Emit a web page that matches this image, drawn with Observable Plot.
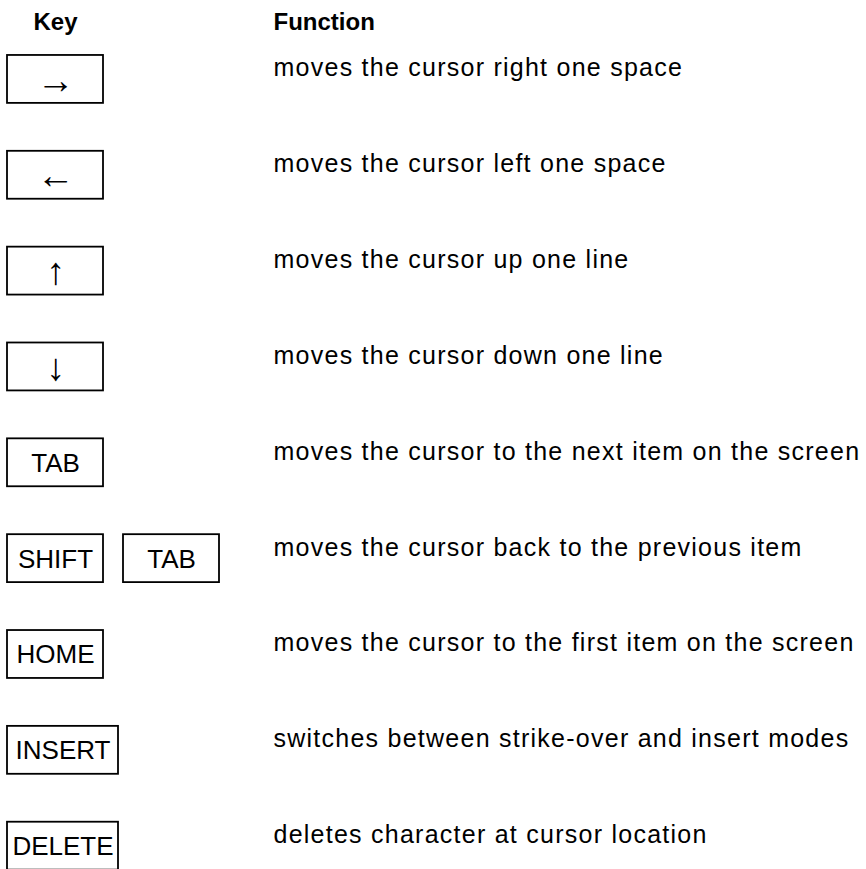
<!DOCTYPE html>
<html>
<head>
<meta charset="utf-8">
<script src="https://cdn.jsdelivr.net/npm/d3@7"></script>
<script src="https://cdn.jsdelivr.net/npm/@observablehq/plot@0.6"></script>
<style>
  body { margin: 0; background: #fff; }
  svg text { font-family: "Liberation Sans", Arial, Helvetica, sans-serif; }
</style>
</head>
<body>
<div id="chart"></div>
<script>
// Column headers
const headers = ["Key", "Function"];

// Keys pressed for each row (a row may need two keys)
const keyRows = [
  ["→"],
  ["←"],
  ["↑"],
  ["↓"],
  ["TAB"],
  ["SHIFT", "TAB"],
  ["HOME"],
  ["INSERT"],
  ["DELETE"]
];

// What each row does
const functions = [
  "moves the cursor right one space",
  "moves the cursor left one space",
  "moves the cursor up one line",
  "moves the cursor down one line",
  "moves the cursor to the next item on the screen",
  "moves the cursor back to the previous item",
  "moves the cursor to the first item on the screen",
  "switches between strike-over and insert modes",
  "deletes character at cursor location"
];

// Layout in "key units" (one standard keycap = 1 unit)
const GAP = 20 / 96;
const WIDE = 111 / 96;
const FUNC_X = 266 / 96;
const rowIds = keyRows.map((_, i) => i);

const keycaps = keyRows.flatMap((keys, row) => {
  let x = 0;
  return keys.map(label => {
    const w = label.length > 5 ? WIDE : 1;
    const k = {row, label, x1: x, x2: x + w, arrow: /[\u2190-\u2193]/.test(label)};
    x += w + GAP;
    return k;
  });
});

const chart = Plot.plot({
  width: 866,
  height: 869,
  margin: 0,
  style: {fontFamily: '"Liberation Sans", Arial, Helvetica, sans-serif', background: "#fff", color: "#000"},
  x: {type: "linear", domain: [0, 859 / 96], range: [7, 866], axis: null},
  y: {type: "band", domain: rowIds, range: [31, 893.6], paddingInner: 0.5, paddingOuter: 0.25, round: false, axis: null},
  marks: [
    // headers
    Plot.text([headers[0]], {x: () => 0.5, frameAnchor: "top", lineAnchor: "bottom", dy: 29,
      text: d => d, textAnchor: "middle", fontWeight: "bold", fontSize: 24}),
    Plot.text([headers[1]], {x: () => FUNC_X, frameAnchor: "top", lineAnchor: "bottom", dy: 29,
      text: d => d, textAnchor: "start", fontWeight: "bold", fontSize: 24}),
    // keycaps
    Plot.barX(keycaps, {x1: "x1", x2: "x2", y: "row", fill: "none", stroke: "#000", strokeWidth: 1.8}),
    Plot.text(keycaps.filter(d => !d.arrow), {x: d => (d.x1 + d.x2) / 2, y: "row", text: "label",
      fontSize: 26, lineAnchor: "bottom", dy: 9, textAnchor: "middle"}),
    Plot.text(keycaps.filter(d => d.arrow), {x: d => (d.x1 + d.x2) / 2, y: "row", text: "label",
      fontSize: 38, lineAnchor: "middle", dy: 1, textAnchor: "middle"}),
    // descriptions
    Plot.text(functions, {x: () => FUNC_X, y: (d, i) => i, text: d => d, textAnchor: "start",
      lineAnchor: "bottom", dy: -3, fontSize: 25, ariaLabel: () => "function"})
  ]
});

d3.select(chart).selectAll('text[aria-label="function"]').attr("letter-spacing", "1.25px");
document.getElementById("chart").append(chart);
</script>
</body>
</html>
